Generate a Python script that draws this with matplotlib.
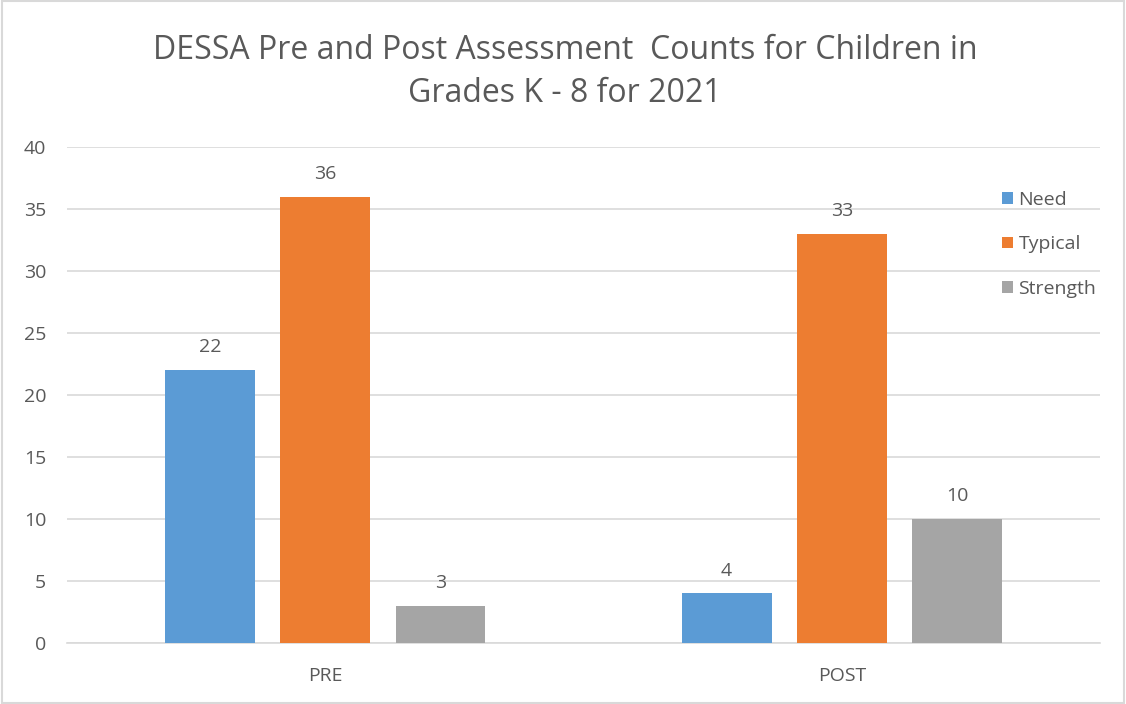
import matplotlib.pyplot as plt
import numpy as np
from matplotlib.patches import Rectangle

plt.rcParams['font.family'] = ['Open Sans', 'DejaVu Sans']

groups = ['PRE', 'POST']
series = ['Need', 'Typical', 'Strength']
need = [22, 4]
typical = [36, 33]
strength = [3, 10]
colors = ['#5B9BD5', '#ED7D31', '#A5A5A5']
text_col = '#595959'

fig = plt.figure(figsize=(11.26, 7.04), dpi=100)
ax = fig.add_axes([0.0595, 0.0866, 0.9175, 0.7045])

x = np.arange(len(groups))
width = 0.174
step = 0.223
for i, (name, vals) in enumerate(zip(series, [need, typical, strength])):
    pos = x + (i - 1) * step
    bars = ax.bar(pos, vals, width, color=colors[i], label=name, zorder=3)
    for b, v in zip(bars, vals):
        ax.annotate(str(v), (b.get_x() + b.get_width() / 2, v),
                    xytext=(0, 10), textcoords='offset points',
                    ha='center', va='bottom', fontsize=14, color=text_col)

ax.set_xlim(-0.5, 1.5)
ax.set_ylim(0, 40)
ax.set_yticks(range(0, 41, 5))
ax.set_xticks(x)
ax.set_xticklabels(groups)
ax.yaxis.grid(True, color='#D9D9D9', linewidth=1.2, zorder=0)
for s in ['top', 'right', 'left']:
    ax.spines[s].set_visible(False)
ax.spines['bottom'].set_color('#D9D9D9')
ax.spines['bottom'].set_linewidth(1.2)
ax.tick_params(axis='both', length=0, labelsize=14, labelcolor=text_col)
ax.tick_params(axis='y', pad=15)
ax.tick_params(axis='x', pad=17)

leg = ax.legend(loc='upper left', bbox_to_anchor=(0.888, 0.947), frameon=False,
                fontsize=14, labelcolor=text_col, handlelength=0.55,
                handleheight=0.55, handletextpad=0.3, labelspacing=1.37)

fig.text(0.502, 0.898, 'DESSA Pre and Post Assessment  Counts for Children in\nGrades K - 8 for 2021',
         ha='center', va='center', fontsize=23, color=text_col, linespacing=1.42)

fig.patches.append(Rectangle((0.002, 0.002), 0.996, 0.996, transform=fig.transFigure,
                             fill=False, edgecolor='#D9D9D9', linewidth=1.5))

fig.savefig('out.png', dpi=100)
